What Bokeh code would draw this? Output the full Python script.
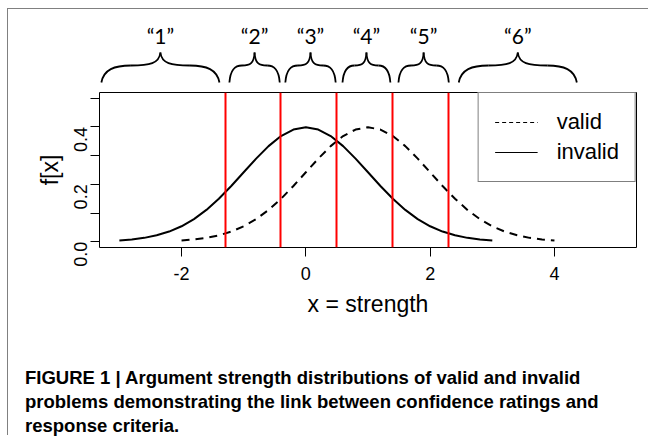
import math
from bokeh.plotting import figure
from bokeh.models import (Range1d, FixedTicker, ColumnDataSource, Legend, LegendItem,
                          Div, InlineStyleSheet)
from bokeh.layouts import column
from bokeh.core.properties import value
from bokeh.embed import file_html
from bokeh.resources import INLINE

# ---------------- data ----------------
# invalid problems: strength values and density
invalid_x = [-3.0, -2.8, -2.6, -2.4, -2.2, -2.0, -1.8, -1.6, -1.4, -1.2, -1.0,
             -0.8, -0.6, -0.4, -0.2, 0.0, 0.2, 0.4, 0.6, 0.8, 1.0, 1.2, 1.4,
             1.6, 1.8, 2.0, 2.2, 2.4, 2.6, 2.8, 3.0]
invalid_f = [0.0044, 0.0079, 0.0136, 0.0224, 0.0355, 0.0540, 0.0790, 0.1109,
             0.1497, 0.1942, 0.2420, 0.2897, 0.3332, 0.3683, 0.3910, 0.3989,
             0.3910, 0.3683, 0.3332, 0.2897, 0.2420, 0.1942, 0.1497, 0.1109,
             0.0790, 0.0540, 0.0355, 0.0224, 0.0136, 0.0079, 0.0044]
# valid problems: strength values and density
valid_x = [-2.0, -1.8, -1.6, -1.4, -1.2, -1.0, -0.8, -0.6, -0.4, -0.2, 0.0,
           0.2, 0.4, 0.6, 0.8, 1.0, 1.2, 1.4, 1.6, 1.8, 2.0, 2.2, 2.4, 2.6,
           2.8, 3.0, 3.2, 3.4, 3.6, 3.8, 4.0]
valid_f = [0.0044, 0.0079, 0.0136, 0.0224, 0.0355, 0.0540, 0.0790, 0.1109,
           0.1497, 0.1942, 0.2420, 0.2897, 0.3332, 0.3683, 0.3910, 0.3989,
           0.3910, 0.3683, 0.3332, 0.2897, 0.2420, 0.1942, 0.1497, 0.1109,
           0.0790, 0.0540, 0.0355, 0.0224, 0.0136, 0.0079, 0.0044]
# response criteria (red lines)
criteria = [-1.3, -0.4, 0.5, 1.4, 2.3]
# confidence rating categories and the strength span of each brace
ratings = ["\u201c1\u201d", "\u201c2\u201d", "\u201c3\u201d", "\u201c4\u201d", "\u201c5\u201d", "\u201c6\u201d"]
rating_from = [-3.29, -1.23, -0.33, 0.59, 1.49, 2.46]
rating_to = [-1.39, -0.42, 0.48, 1.36, 2.30, 4.36]
# axis ticks
x_ticks = [-2, 0, 2, 4]
x_tick_labels = {-2: "-2", 0: "0", 2: "2", 4: "4"}
y_ticks = [0.0, 0.1, 0.2, 0.3, 0.4, 0.5]
y_tick_labels = {0.0: "0.0", 0.1: "", 0.2: "0.2", 0.3: "", 0.4: "0.4", 0.5: ""}
legend_labels = ["valid", "invalid"]
caption_lines = [
    "FIGURE 1 | Argument strength distributions of valid and invalid",
    "problems demonstrating the link between confidence ratings and",
    "response criteria.",
]

# ---------------- layout constants ----------------
W = 640
LEFT = 91
RIGHT = 12
FONT = "Liberation Sans"

x_range = Range1d(-3.32, 5.32)

# ---------------- top: braces ----------------
TOP_H = 82
top = figure(width=W, height=TOP_H, x_range=x_range, y_range=Range1d(91, 9),
             output_backend="svg", toolbar_location=None,
             min_border_left=LEFT, min_border_right=RIGHT,
             min_border_top=0, min_border_bottom=0)
top.axis.visible = False
top.grid.visible = False
top.outline_line_color = None

y_end, y_sh, y_tip, y_lab = 82, 65, 52, 35
b = dict(x0=[], y0=[], x1=[], y1=[], cx0=[], cy0=[], cx1=[], cy1=[])
for a, c in zip(rating_from, rating_to):
    m = (a + c) / 2
    hw = (c - a) / 2
    for s in (1, -1):
        e = a if s == 1 else c
        q = e + s * 0.5 * hw
        # end -> shoulder
        b["x0"].append(e); b["y0"].append(y_end)
        b["cx0"].append(e + s * 0.04 * hw); b["cy0"].append(y_sh + 4)
        b["cx1"].append(e + s * 0.22 * hw); b["cy1"].append(y_sh)
        b["x1"].append(q); b["y1"].append(y_sh)
        # shoulder -> tip
        b["x0"].append(q); b["y0"].append(y_sh)
        b["cx0"].append(m - s * 0.18 * hw); b["cy0"].append(y_sh)
        b["cx1"].append(m - s * 0.02 * hw); b["cy1"].append(y_sh - 2)
        b["x1"].append(m); b["y1"].append(y_tip)
top.bezier(source=ColumnDataSource(b), x0="x0", y0="y0", x1="x1", y1="y1",
           cx0="cx0", cy0="cy0", cx1="cx1", cy1="cy1",
           line_color="black", line_width=1.8)
mids = [(a + c) / 2 for a, c in zip(rating_from, rating_to)]
top.text(x=mids, y=[y_lab] * len(mids), text=ratings,
         text_font=value("Lato"), text_font_size="21px",
         text_align="center", text_baseline="middle", text_color="black")

# ---------------- main plot ----------------
MAIN_H = 234
p = figure(width=W, height=MAIN_H, x_range=x_range, y_range=Range1d(-0.02, 0.52),
           output_backend="svg", toolbar_location=None,
           min_border_left=LEFT, min_border_right=RIGHT,
           min_border_top=1, min_border_bottom=MAIN_H - 1 - 155)
p.grid.visible = False
p.outline_line_color = "black"
p.outline_line_width = 1

p.line(invalid_x, invalid_f, line_color="black", line_width=2)
p.line(valid_x, valid_f, line_color="black", line_width=2, line_dash="8 6")
p.vspan(x=criteria, line_color="#ff0000", line_width=2)

for ax in (p.xaxis[0], p.yaxis[0]):
    ax.axis_line_color = None
    ax.major_tick_in = 0
    ax.major_tick_out = 9
    ax.major_tick_line_color = "black"
    ax.minor_tick_line_color = None
    ax.major_label_text_font = FONT
    ax.major_label_text_font_size = "18px"
    ax.major_label_text_color = "black"
    ax.axis_label_text_font = FONT
    ax.axis_label_text_font_size = "23px"
    ax.axis_label_text_font_style = "normal"
    ax.axis_label_text_color = "black"

p.xaxis.ticker = FixedTicker(ticks=x_ticks)
p.xaxis.major_label_overrides = x_tick_labels
p.xaxis.major_label_standoff = 10
p.xaxis.axis_label = "x = strength"
p.xaxis.axis_label_standoff = 8
p.yaxis.ticker = FixedTicker(ticks=y_ticks)
p.yaxis.major_label_overrides = y_tick_labels
p.yaxis.major_label_orientation = math.pi / 2
p.yaxis.major_label_standoff = 10
p.yaxis.axis_label = "f[x]"
p.yaxis.axis_label_standoff = 2

nan = float("nan")
src_legend = ColumnDataSource(dict(x=[nan], y=[nan]))
r_valid = p.line("x", "y", source=src_legend, line_color="black", line_width=1, line_dash="4 3")
r_invalid = p.line("x", "y", source=src_legend, line_color="black", line_width=1)
legend = Legend(items=[LegendItem(label=legend_labels[0], renderers=[r_valid]),
                       LegendItem(label=legend_labels[1], renderers=[r_invalid])],
                location="top_right", margin=0, padding=16, spacing=4,
                glyph_width=43, glyph_height=24, label_height=24, label_standoff=19,
                label_text_font=FONT, label_text_font_size="22px",
                label_text_color="black",
                border_line_color="black", border_line_width=1,
                background_fill_color="white", background_fill_alpha=1)
p.add_layout(legend)

# ---------------- caption ----------------
CAP_H = 110
cap_html = ('<div style="font-family: \'Liberation Sans\', Arial, sans-serif; font-weight: bold; '
            'font-size: 18.5px; line-height: 24px; padding-left: 17px; padding-top: 41px; '
            'color: black; white-space: nowrap;">' + "<br>".join(caption_lines) + "</div>")
cap = Div(text=cap_html, width=W, height=CAP_H, margin=0)

border_css = InlineStyleSheet(css=":host { border-left: 1px solid #808080; border-top: 1px solid #808080; }")
layout = column(top, p, cap, spacing=0, margin=(8, 0, 0, 7), stylesheets=[border_css])

open("out.html", "w").write(file_html(layout, INLINE))
